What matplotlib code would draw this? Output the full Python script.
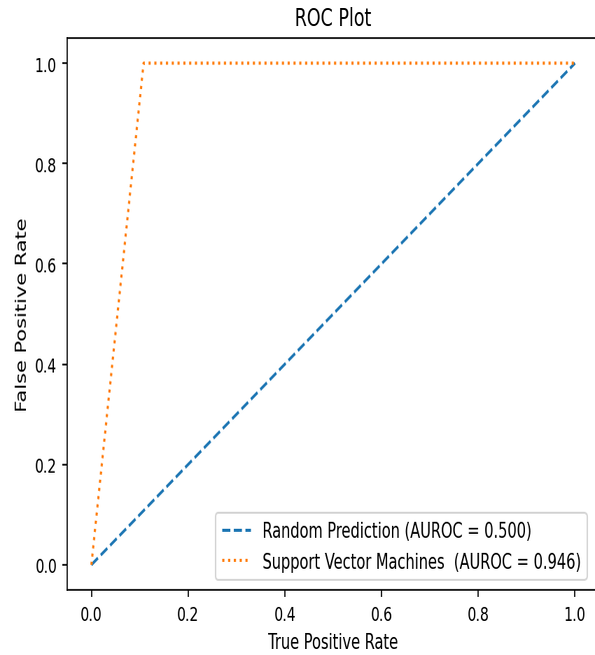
import io
import matplotlib
matplotlib.use("Agg")
import matplotlib.pyplot as plt
from PIL import Image

# ROC data
random_fpr = [0.0, 1.0]
random_tpr = [0.0, 1.0]
svm_fpr = [0.0, 0.108, 1.0]
svm_tpr = [0.0, 1.0, 1.0]
random_label = "Random Prediction (AUROC = 0.500)"
svm_label = "Support Vector Machines  (AUROC = 0.946)"

# the reference looks like a wider render squeezed to 595 px wide
W, H = 850, 655
dpi = 150
fig = plt.figure(figsize=(W / dpi, H / dpi), dpi=dpi)
ax = fig.add_axes([96 / W, 65 / H, 760 / W, 551 / H])

ax.plot(random_fpr, random_tpr, linestyle="--", label=random_label)
ax.plot(svm_fpr, svm_tpr, linestyle=":", label=svm_label)

ax.set_title("ROC Plot", fontsize=12)
ax.set_xlabel("True Positive Rate", fontsize=10)
ax.set_ylabel("False Positive Rate", fontsize=10)
ax.tick_params(labelsize=9.5)
ax.legend(loc="lower right", fontsize=10, borderaxespad=0,
          bbox_to_anchor=(0.977, 0.018))

buf = io.BytesIO()
fig.savefig(buf, dpi=dpi, format="png")
buf.seek(0)
img = Image.open(buf).convert("RGB")
img = img.resize((595, 655), Image.LANCZOS)
img.save("out.png")
